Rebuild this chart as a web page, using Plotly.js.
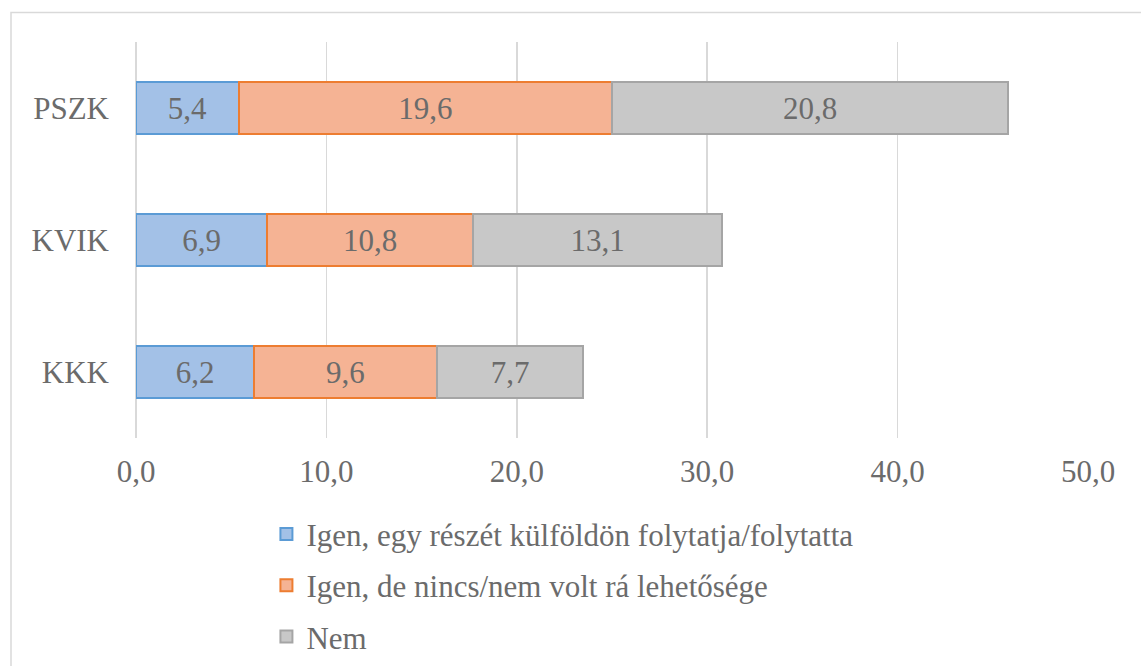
<!DOCTYPE html>
<html>
<head>
<meta charset="utf-8">
<script src="https://cdn.plot.ly/plotly-3.0.1.min.js"></script>
<style>
html,body{margin:0;padding:0;background:#fff;}
#chart{width:1141px;height:666px;}
#pre{position:absolute;left:0;top:0;font-family:'Liberation Serif';font-size:31px;color:#fff;opacity:0.01;}
</style>
</head>
<body>
<div id="pre">.</div>
<div id="chart"></div>
<script>
const categories = ['PSZK', 'KVIK', 'KKK'];
const seriesNames = ['Igen, egy részét külföldön folytatja/folytatta', 'Igen, de nincs/nem volt rá lehetősége', 'Nem'];
const igenKulfold = [5.4, 6.9, 6.2];
const igenNincs = [19.6, 10.8, 9.6];
const nem = [20.8, 13.1, 7.7];
const tickValues = [0, 10, 20, 30, 40, 50];
const tickLabels = ['0,0', '10,0', '20,0', '30,0', '40,0', '50,0'];

const fillColors = ['#a3c1e7', '#f5b394', '#c8c8c8'];
const lineColors = ['#5b9bd5', '#ed7d31', '#a5a5a5'];
const seriesValues = [igenKulfold, igenNincs, nem];
const fmt = v => v.toFixed(1).replace('.', ',');

const serifFont = 'Liberation Serif';
const textGray = '#6b6b6b';
const fontSize = 31;

// activate the serif font before plotting
(function () {
  const c = document.createElement('canvas');
  const ctx = c.getContext('2d');
  ctx.font = fontSize + 'px "' + serifFont + '"';
  ctx.fillText('PSZK 0,0', 0, 20);
})();

const traces = seriesValues.map((vals, i) => ({
  type: 'bar',
  orientation: 'h',
  name: seriesNames[i],
  legendgroup: 'g' + i,
  y: categories,
  x: vals,
  text: vals.map(fmt),
  textposition: 'inside',
  insidetextanchor: 'middle',
  textangle: 0,
  constraintext: 'none',
  textfont: {family: serifFont, size: fontSize, color: textGray},
  hoverinfo: 'x+name',
  marker: {color: fillColors[i], line: {color: lineColors[i], width: 2}},
  width: 0.39
}));

const layout = {
  width: 1141,
  height: 666,
  margin: {l: 136, r: 53, t: 42, b: 228, autoexpand: false},
  paper_bgcolor: '#fff',
  plot_bgcolor: '#fff',
  barmode: 'stack',
  showlegend: true,
  font: {family: serifFont, size: fontSize, color: textGray},
  xaxis: {
    range: [0, 50],
    tickvals: tickValues,
    ticktext: tickLabels,
    showgrid: true,
    gridcolor: '#d9d9d9',
    gridwidth: 1.5,
    zeroline: true,
    zerolinecolor: '#d9d9d9',
    zerolinewidth: 1.5,
    showline: false,
    ticks: '',
    ticklabelstandoff: 12,
    tickfont: {family: serifFont, size: fontSize, color: textGray},
    fixedrange: true,
    automargin: false
  },
  yaxis: {
    type: 'category',
    autorange: 'reversed',
    showgrid: false,
    zeroline: false,
    showline: false,
    ticks: '',
    ticklabelstandoff: 26,
    tickfont: {family: serifFont, size: fontSize, color: textGray},
    fixedrange: true,
    automargin: false
  },
  legend: {
    orientation: 'v',
    traceorder: 'grouped',
    x: 0.137,
    xanchor: 'left',
    y: -0.175,
    yanchor: 'top',
    font: {family: serifFont, size: fontSize, color: textGray},
    itemwidth: 30,
    tracegroupgap: 8,
    bgcolor: 'rgba(0,0,0,0)'
  },
  shapes: [{
    type: 'rect',
    xref: 'paper', yref: 'paper',
    x0: (11 - 136) / 952, x1: (1150 - 136) / 952,
    y0: -1, y1: (438 - 12.5) / 396,
    line: {color: '#d9d9d9', width: 1.5},
    fillcolor: 'rgba(0,0,0,0)',
    layer: 'below'
  }]
};

Plotly.newPlot('chart', traces, layout, {displayModeBar: false, staticPlot: true});
</script>
</body>
</html>
